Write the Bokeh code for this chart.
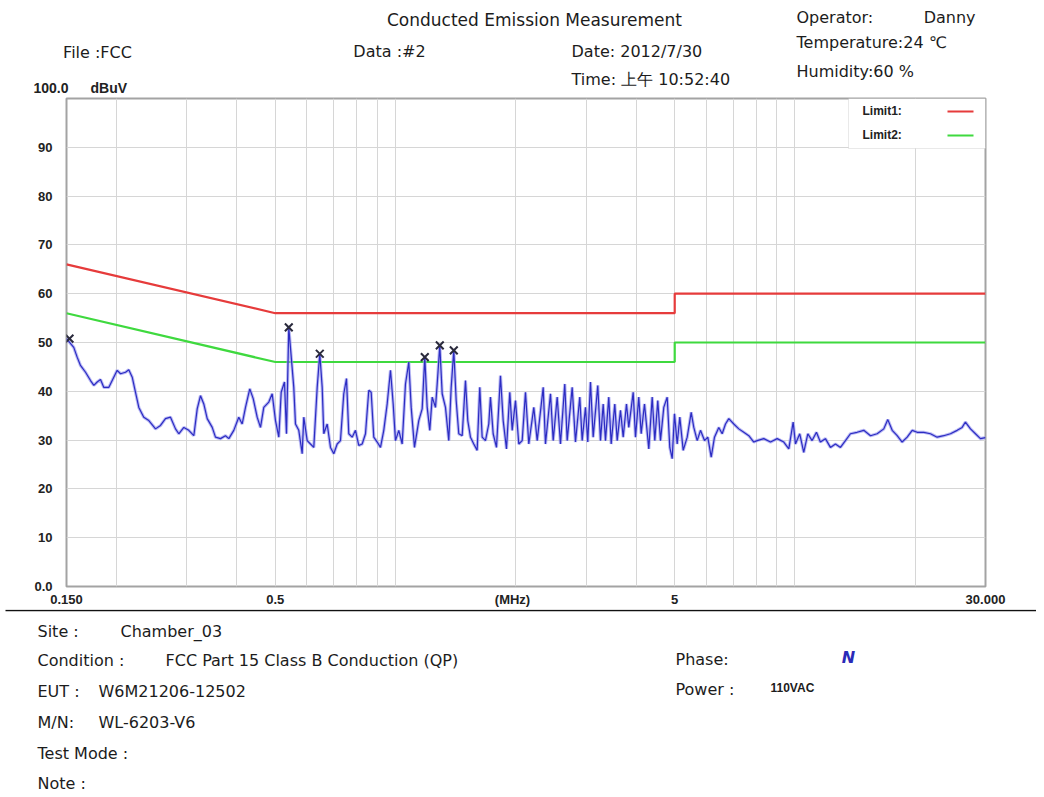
import math
from bokeh.plotting import figure
from bokeh.layouts import column
from bokeh.models import Range1d, FixedTicker, Label, BoxAnnotation, Arrow
from bokeh.embed import file_html
from bokeh.resources import INLINE

# ---------------- data ----------------
limit_freq = [0.15, 0.5, 5.0, 5.0, 30.0]
limit1_level = [66, 56, 56, 60, 60]
limit2_level = [56, 46, 46, 50, 50]

trace_freq = [
    0.150, 0.1564, 0.1595, 0.1626, 0.1674, 0.1723, 0.1756, 0.1790, 0.1825, 0.1860,
    0.1914, 0.1952, 0.2009, 0.2048, 0.2108, 0.2148, 0.2191, 0.2233, 0.2276, 0.2342,
    0.2411, 0.2506, 0.2579, 0.2654, 0.2732, 0.2812, 0.2866, 0.2950, 0.3036, 0.3125,
    0.3187, 0.3248, 0.3310, 0.3376, 0.3475, 0.3541, 0.3645, 0.3751, 0.3824, 0.3935,
    0.4050, 0.4130, 0.4210, 0.4315, 0.4401, 0.4503, 0.4590, 0.4678, 0.4815, 0.4910,
    0.5005, 0.5101, 0.5172, 0.5271, 0.5332, 0.5403, 0.5561, 0.5616, 0.5724, 0.5837,
    0.5891, 0.6008, 0.6123, 0.6241, 0.6365, 0.6461, 0.6551, 0.6611, 0.6742, 0.6872,
    0.7004, 0.7142, 0.7279, 0.7419, 0.7536, 0.7636, 0.7788, 0.7937, 0.8089, 0.8249,
    0.8408, 0.8570, 0.8689, 0.8820, 0.8995, 0.9168, 0.9343, 0.9528, 0.9712, 0.9864,
    0.9996, 1.0188, 1.0389, 1.0589, 1.0793, 1.0943, 1.1153, 1.1433, 1.1659, 1.1835,
    1.2000, 1.2181, 1.2352, 1.2589, 1.2713, 1.2905, 1.3084, 1.3335, 1.3592, 1.3781,
    1.3990, 1.4184, 1.4398, 1.4683, 1.4965, 1.5164, 1.5402, 1.5698, 1.6008, 1.6251,
    1.6476, 1.6793, 1.7115, 1.7284, 1.7554, 1.7893, 1.8310, 1.8598, 1.8955, 1.9320,
    1.9590, 1.9966, 2.0349, 2.0752, 2.1150, 2.1558, 2.2188, 2.2627, 2.3424, 2.3735,
    2.4430, 2.4811, 2.5392, 2.5878, 2.6527, 2.6896, 2.7684, 2.8215, 2.8923, 2.9325,
    2.9889, 3.0289, 3.0765, 3.1247, 3.2086, 3.2590, 3.3102, 3.3543, 3.4190, 3.4665,
    3.5391, 3.5886, 3.6575, 3.7149, 3.7862, 3.8369, 3.9353, 3.9879, 4.0644, 4.1210,
    4.2005, 4.3059, 4.3911, 4.4571, 4.5348, 4.6061, 4.6946, 4.7876, 4.8599, 4.9278,
    4.9934, 5.0718, 5.1485, 5.2505, 5.3732, 5.4983, 5.5814, 5.6919, 5.8011, 5.9367,
    6.0506, 6.1704, 6.2888, 6.4466, 6.5742, 6.7004, 6.8295, 7.0292, 7.2347, 7.4460,
    7.6643, 7.8882, 8.0444, 8.3559, 8.6856, 9.0275, 9.3773, 9.6521, 9.897, 10.03,
    10.28, 10.52, 10.77, 11.04, 11.32, 11.58, 11.92, 12.27, 12.63, 13.00,
    13.38, 13.77, 14.31, 14.87, 15.46, 16.06, 16.69, 17.08, 17.52, 18.03,
    18.55, 19.10, 19.66, 20.23, 21.01, 21.84, 22.70, 23.58, 24.51, 25.48,
    26.22, 26.72, 27.51, 28.31, 29.14, 30.0,
]
trace_level = [
    50.8, 49.0, 47.0, 45.3, 43.9, 42.2, 41.2, 41.9, 42.4, 40.8,
    40.8, 42.2, 44.3, 43.6, 43.9, 44.4, 42.9, 39.8, 36.7, 34.7,
    34.0, 32.3, 33.0, 34.4, 34.7, 32.3, 31.3, 32.6, 32.0, 30.9,
    36.4, 39.1, 37.4, 34.4, 32.6, 30.6, 30.3, 30.9, 30.3, 32.0,
    34.7, 33.3, 36.7, 40.5, 38.5, 34.7, 32.6, 36.7, 37.8, 39.5,
    34.0, 30.6, 39.8, 41.9, 31.3, 53.1, 40.8, 33.3, 32.0, 27.2,
    34.7, 29.9, 29.2, 28.5, 40.8, 47.7, 40.8, 31.3, 33.3, 28.5,
    27.2, 29.2, 29.9, 39.5, 42.6, 31.3, 30.6, 32.0, 28.9, 29.2,
    31.3, 40.2, 39.8, 30.6, 29.6, 28.5, 32.0, 37.4, 44.3, 37.4,
    29.9, 32.0, 29.2, 41.5, 46.0, 36.7, 28.5, 34.0, 36.4, 47.0,
    36.7, 32.0, 38.8, 36.7, 41.5, 49.4, 39.5, 36.7, 29.9, 40.8,
    48.4, 38.1, 31.3, 30.9, 42.2, 34.0, 30.6, 29.2, 27.9, 40.8,
    30.6, 29.9, 33.3, 38.8, 31.3, 28.5, 43.2, 34.0, 28.2, 39.8,
    32.0, 38.1, 29.2, 29.9, 39.8, 29.2, 36.7, 29.9, 40.8, 29.2,
    39.5, 29.9, 38.8, 29.2, 41.5, 29.9, 40.8, 29.6, 38.8, 29.9,
    36.7, 29.6, 41.9, 30.6, 41.2, 29.9, 37.4, 29.9, 38.8, 29.2,
    37.4, 29.9, 36.1, 30.6, 37.4, 32.6, 39.8, 30.6, 38.8, 31.3,
    37.4, 28.2, 38.8, 29.9, 38.1, 29.9, 36.7, 38.8, 28.5, 26.2,
    35.4, 29.2, 34.7, 27.9, 30.6, 35.7, 32.6, 29.9, 32.0, 29.9,
    30.6, 26.5, 30.6, 32.6, 31.3, 33.3, 34.4, 33.3, 32.3, 31.6,
    30.9, 29.6, 29.9, 30.3, 29.6, 30.3, 29.6, 28.2, 33.7, 29.2,
    31.3, 27.5, 31.3, 29.9, 31.6, 29.6, 30.3, 28.5, 29.2, 28.5,
    29.9, 31.3, 31.6, 32.0, 30.9, 31.3, 32.3, 34.2, 32.0, 30.9,
    29.6, 30.6, 32.0, 31.6, 31.6, 31.3, 30.6, 30.9, 31.3, 32.0,
    32.6, 33.7, 32.3, 31.3, 30.3, 30.5,
]

peak_freq = [0.1526, 0.5403, 0.6461, 1.1835, 1.2905, 1.3990]
peak_level = [50.8, 53.1, 47.7, 47.0, 49.4, 48.4]

y_ticks = [0, 10, 20, 30, 40, 50, 60, 70, 80, 90]
y_tick_labels = {0: "0.0"}
x_tick_freqs = [0.15, 0.5, 5, 30]
x_tick_labels = ["0.150", "0.5", "5", "30.000"]
x_unit_label = "(MHz)"
x_grid_freqs = [0.2, 0.3, 0.4, 0.5, 0.6, 0.7, 0.8, 0.9, 1, 2, 3, 4, 5, 6, 7, 8, 9, 10, 20]

# ---------------- geometry (page pixels) ----------------
W = 1036
FR_L, FR_W, FR_T, FR_H = 66, 919, 98, 488
HEAD_H = 94
MAIN_TOP = FR_T - HEAD_H          # 4
MAIN_BOT = 22
FOOT_TOP = FR_T + FR_H + MAIN_BOT  # 608
FOOT_H = 795 - FOOT_TOP
DEC = FR_W / math.log10(30 / 0.15)


def fx(px):
    return 0.15 * 10 ** ((px - FR_L) / DEC)


def fy(py):
    return (FR_T + FR_H - py) * 100.0 / FR_H


def blank(height, y0):
    f = figure(width=W, height=height, x_range=Range1d(0, W), y_range=Range1d(y0 + height, y0),
               min_border=0, min_border_left=0, min_border_right=0, min_border_top=0,
               min_border_bottom=0, outline_line_color=None, output_backend="svg",
               toolbar_location=None, background_fill_color="white", border_fill_color="white",
               frame_align=False)
    f.axis.visible = False
    f.grid.visible = False
    return f


def txt(fig, s, px, py, size=16, align="left", style="normal", color="#1c1c1c", font="DejaVu Sans"):
    fig.add_layout(Label(x=px, y=py, text=s, text_font=font, text_font_size=f"{size}px",
                         text_font_style=style, text_color=color, text_align=align,
                         text_baseline="middle"))


# ---------------- header ----------------
head = blank(HEAD_H, 0)
txt(head, "Conducted Emission Measurement", 534, 19, 17, align="center")
txt(head, "File :FCC", 97, 52, align="center")
txt(head, "Data :#2", 389, 51, align="center")
txt(head, "Date: 2012/7/30", 571, 51)
txt(head, "Time: 上午 10:52:40", 571, 79)
txt(head, "Operator:", 796, 17)
txt(head, "Danny", 975, 17, align="right")
txt(head, "Temperature:24 ℃", 796, 42)
txt(head, "Humidity:60 %", 796, 71)
txt(head, "100.0", 33, 87, 14, style="bold", font="Liberation Sans", color="#222222")
txt(head, "dBuV", 90, 87, 14, style="bold", font="Liberation Sans", color="#222222")

# ---------------- main chart ----------------
p = figure(
    x_axis_type="log",
    x_range=Range1d(0.15, 30),
    y_range=Range1d(0, 100),
    frame_width=FR_W,
    frame_height=FR_H,
    min_border_left=FR_L,
    min_border_right=W - FR_L - FR_W,
    min_border_top=MAIN_TOP,
    min_border_bottom=MAIN_BOT,
    output_backend="svg",
    toolbar_location=None,
    background_fill_color="white",
    border_fill_color="white",
    outline_line_color="#a3a3a3",
    outline_line_width=2,
    frame_align=False,
)

p.xgrid.ticker = FixedTicker(ticks=x_grid_freqs)
p.ygrid.ticker = FixedTicker(ticks=y_ticks[1:])
p.grid.grid_line_color = "#d6d6d6"
p.grid.grid_line_width = 1

unit_pos = fx(512)  # where the reference prints the unit between the tick labels
xa = p.xaxis[0]
xa.ticker = FixedTicker(ticks=x_tick_freqs + [unit_pos])
overrides = {f: lab for f, lab in zip(x_tick_freqs, x_tick_labels)}
overrides[unit_pos] = x_unit_label
xa.major_label_overrides = overrides
ya = p.yaxis[0]
ya.ticker = FixedTicker(ticks=y_ticks)
ya.major_label_overrides = y_tick_labels
for ax in (xa, ya):
    ax.major_tick_line_color = None
    ax.minor_tick_line_color = None
    ax.axis_line_color = None
    ax.major_tick_out = 0
    ax.major_tick_in = 0
    ax.major_label_text_font = "Liberation Sans"
    ax.major_label_text_font_style = "bold"
    ax.major_label_text_font_size = "13px"
    ax.major_label_text_color = "#222222"
ya.major_label_standoff = 14
xa.major_label_standoff = 5

p.line(limit_freq, limit1_level, line_color="#e63b3b", line_width=2.2)
p.line(limit_freq, limit2_level, line_color="#3fd93f", line_width=2.2)
p.line(trace_freq, trace_level, line_color="#9c9cf0", line_width=3.2, line_alpha=0.7)
p.line(trace_freq, trace_level, line_color="#2c2cc2", line_width=1.2)
p.scatter(peak_freq, peak_level, marker="x", size=11, line_color="#2a2a3c", line_width=2)

# legend box (label left, sample right, like the reference)
p.add_layout(BoxAnnotation(left=fx(848), right=30, top=100, bottom=fy(148),
                           fill_color="white", fill_alpha=1.0,
                           line_color="#b5b5b5", line_width=1, level="annotation"))
for name, py, col in [("Limit1:", 110, "#e63b3b"), ("Limit2:", 134, "#3fd93f")]:
    p.add_layout(Label(x=fx(862), y=fy(py), text=name, text_font="Liberation Sans",
                       text_font_style="bold", text_font_size="12px", text_color="#222222",
                       text_baseline="middle"))
    p.add_layout(Arrow(end=None, x_start=fx(947), x_end=fx(973), y_start=fy(py + 1),
                       y_end=fy(py + 1), line_color=col, line_width=2.2))

# ---------------- footer ----------------
foot = blank(FOOT_H, FOOT_TOP)
foot.add_layout(Arrow(end=None, x_start=5, x_end=W, y_start=609, y_end=609,
                      line_color="#111111", line_width=1.6))

txt(foot, "Site :", 37, 630)
txt(foot, "Chamber_03", 120, 630)
txt(foot, "Condition :", 37, 659)
txt(foot, "FCC Part 15 Class B Conduction (QP)", 165, 659)
txt(foot, "EUT :", 37, 690)
txt(foot, "W6M21206-12502", 98, 690)
txt(foot, "M/N:", 37, 721)
txt(foot, "WL-6203-V6", 98, 721)
txt(foot, "Test Mode :", 37, 752)
txt(foot, "Note :", 37, 782)
txt(foot, "Phase:", 675, 658)
txt(foot, "N", 848, 656, 16, align="center", style="bold italic", color="#2a2ab8")
txt(foot, "Power :", 675, 688)
txt(foot, "110VAC", 770, 686, 12, style="bold", font="Liberation Sans")

layout = column(head, p, foot, spacing=0)
open("out.html", "w").write(file_html(layout, INLINE))
